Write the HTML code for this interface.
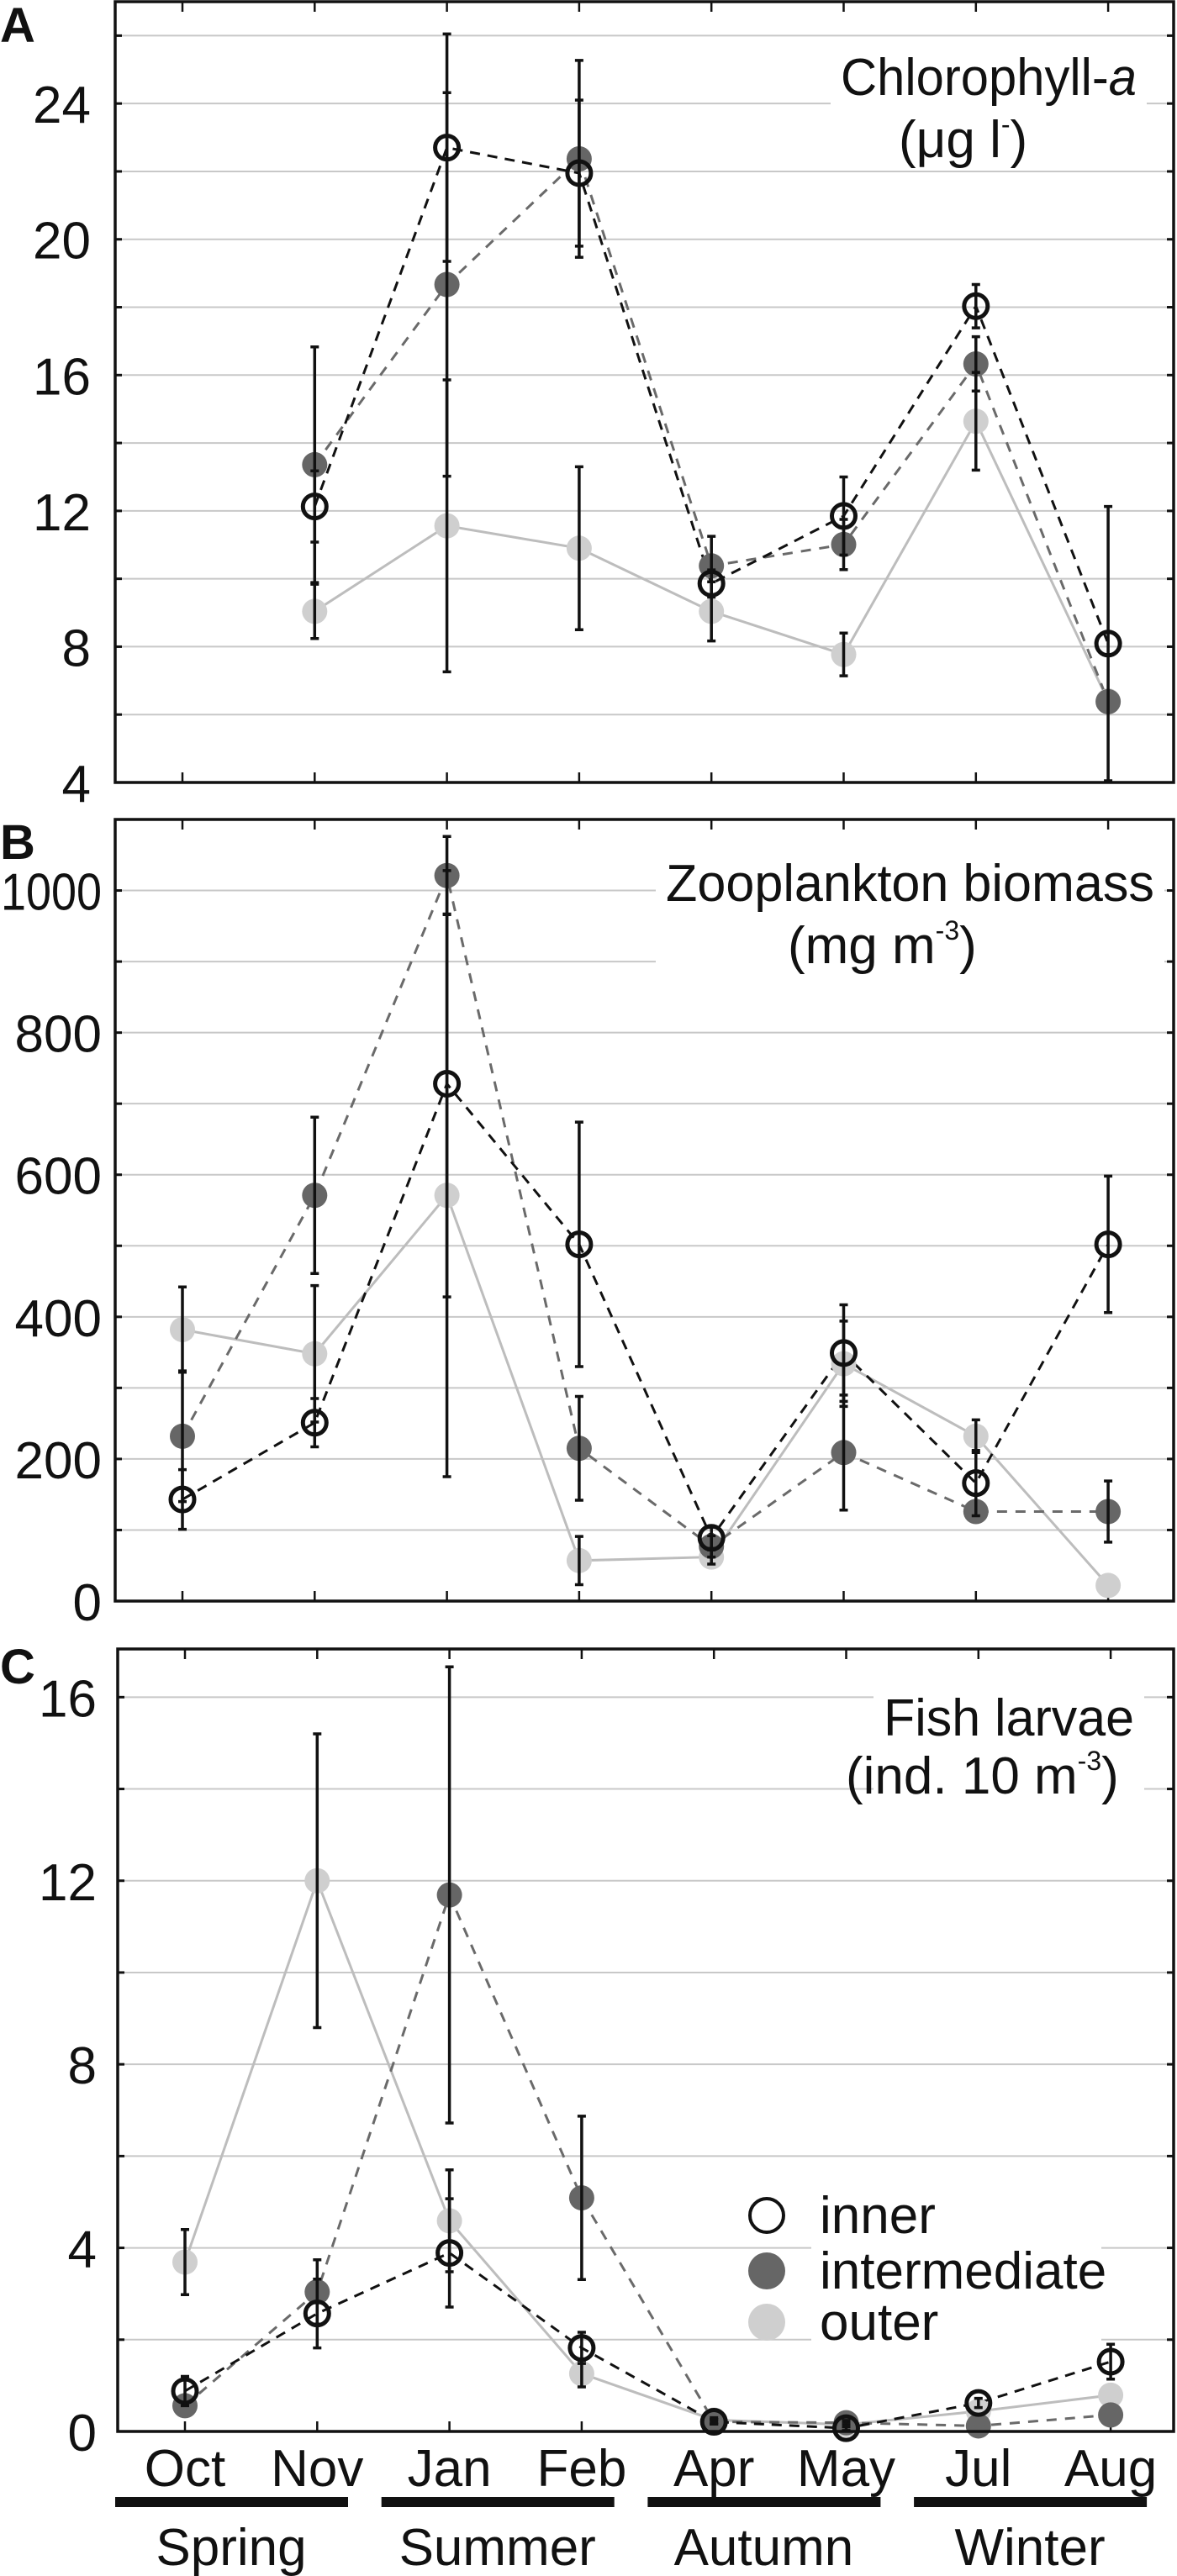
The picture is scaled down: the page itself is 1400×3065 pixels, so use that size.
<!DOCTYPE html>
<html><head><meta charset="utf-8"><style>
html,body{margin:0;padding:0;background:#fff}
svg{display:block}
text{font-family:"Liberation Sans",sans-serif;fill:#111}
</style></head><body>
<svg id="chart" width="1400" height="3065" viewBox="0 0 1400 3065" xmlns="http://www.w3.org/2000/svg"></svg>
<script>
const months = ["Oct","Nov","Jan","Feb","Apr","May","Jul","Aug"];
const seasons = ["Spring","Summer","Autumn","Winter"];
const chlInner = [null,12.13,22.7,21.95,9.86,11.85,18.03,8.09];
const chlInterm = [null,13.36,18.67,22.37,10.38,11.01,16.33,6.38];
const chlOuter = [null,9.04,11.56,10.9,9.04,7.77,14.64,6.4];
const chlInnerErr = [0,1.05,3.35,2.15,0.4,1.15,0.64,4.04];
const chlIntermErr = [0,3.47,5.65,2.9,0.87,0.74,0.8,0];
const chlOuterErr = [0,0.8,4.3,2.4,0.87,0.63,1.44,0];
const zooInner = [143,251,728,502,89,349,166,502];
const zooInterm = [232,571,1021,215,77,209,126,126];
const zooOuter = [382,348,571,57,62,334,232,22];
const zooInnerErr = [42,34,300,172,15,68,46,96];
const zooIntermErr = [92,110,55,73,15,81,0,43];
const zooOuterErr = [60,96,396,34,10,60,23,0];
const fishInner = [0.88,2.57,3.89,1.82,0.21,0.07,0.62,1.52];
const fishInterm = [0.56,3.04,11.69,5.09,0.21,0.19,0.12,0.36];
const fishOuter = [3.69,12.0,4.59,1.26,0.25,0.15,0.44,0.79];
const fishInnerErr = [0.32,0.75,1.18,0.34,0.05,0.05,0.1,0.38];
const fishIntermErr = [0,0.7,4.97,1.78,0.05,0.05,0,0];
const fishOuterErr = [0.71,3.2,1.11,0.29,0.05,0.05,0,0];
const chlTicks = [4,8,12,16,20,24];
const zooTicks = [0,200,400,600,800,1000];
const fishTicks = [0,4,8,12,16];

const NS="http://www.w3.org/2000/svg";
const svg=document.getElementById('chart');
function mk(tag,attrs,parent){const e=document.createElementNS(NS,tag);for(const k in attrs)e.setAttribute(k,attrs[k]);(parent||svg).appendChild(e);return e;}

const panels=[
 {key:'chl',letter:'A',top:2,bottom:931,left:137,right:1396,xoff:0,vmin:4,vmax:27,grid:2,ticks:chlTicks,labelRight:108,
  inner:chlInner,interm:chlInterm,outer:chlOuter,ie:chlInnerErr,me:chlIntermErr,oe:chlOuterErr,letterY:50,
  t1:"Chlorophyll-",t1i:"a",t1x:1000,t1y:113,t1w:352,t2:"(μg l",t2s:"-",t2e:")",t2x:1069,t2y:187,t2w:147},
 {key:'zoo',letter:'B',top:975,bottom:1905,left:137,right:1396,xoff:0,vmin:0,vmax:1100,grid:100,ticks:zooTicks,labelRight:121,
  inner:zooInner,interm:zooInterm,outer:zooOuter,ie:zooInnerErr,me:zooIntermErr,oe:zooOuterErr,letterY:1022,
  t1:"Zooplankton biomass",t1i:"",t1x:792,t1y:1072,t1w:581,t2:"(mg m",t2s:"-3",t2e:")",t2x:937,t2y:1146,t2w:217},
 {key:'fish',letter:'C',top:1962,bottom:2893,left:140,right:1396,xoff:3,vmin:0,vmax:17.05,grid:2,ticks:fishTicks,labelRight:115,
  inner:fishInner,interm:fishInterm,outer:fishOuter,ie:fishInnerErr,me:fishIntermErr,oe:fishOuterErr,letterY:2003,
  t1:"Fish larvae",t1i:"",t1x:1051,t1y:2065,t1w:298,t2:"(ind. 10 m",t2s:"-3",t2e:")",t2x:1006,t2y:2134,t2w:316}
];

panels.forEach(p=>{
 const g=mk('g',{});
 
 
 const xs=i=>217+p.xoff+i*157.3;
 const ys=v=>p.bottom-(v-p.vmin)*(p.bottom-p.top)/(p.vmax-p.vmin);
 for(let v=p.vmin+p.grid; v<p.vmax-1e-6; v+=p.grid){
  const y=ys(v);
  const l=mk('line',{x1:p.left,x2:p.right,y1:y,y2:y,stroke:'#c8c8c8','stroke-width':2},g);
  
  
  mk('line',{x1:p.left,x2:p.left+8,y1:y,y2:y,stroke:'#111','stroke-width':3},g);
  mk('line',{x1:p.right-8,x2:p.right,y1:y,y2:y,stroke:'#111','stroke-width':3},g);
 }
 months.forEach((m,i)=>{
  const x=xs(i);
  mk('line',{x1:x,x2:x,y1:p.bottom,y2:p.bottom-12,stroke:'#111','stroke-width':2.5},g);
  mk('line',{x1:x,x2:x,y1:p.top,y2:p.top+12,stroke:'#111','stroke-width':2.5},g);
 });
 p.ticks.forEach(v=>{
  const t=mk('text',{x:p.labelRight,y:ys(v)+23,'text-anchor':'end','font-size':62},g);
  t.textContent=v;
  if(String(v).length>=4){t.setAttribute('textLength',120);t.setAttribute('lengthAdjust','spacingAndGlyphs');}
  
  
 });
 const L=mk('text',{x:0,y:p.letterY,'font-size':58,'font-weight':'bold'},g);
 L.textContent=p.letter;
 
 
 mk('rect',{x:p.t1x-12,y:p.t1y-54,width:Math.max(p.t1w,p.t2x+p.t2w-p.t1x)+24,height:p.t2y-p.t1y+68,fill:'#fff'},g);
 const T1=mk('text',{x:p.t1x,y:p.t1y,'font-size':62},g);
 T1.textContent=p.t1;
 if(p.t1i){const s=mk('tspan',{'font-style':'italic'},T1);s.textContent=p.t1i;}
 T1.setAttribute('textLength',p.t1w);T1.setAttribute('lengthAdjust','spacingAndGlyphs');
 
 
 const T2=mk('text',{x:p.t2x,y:p.t2y,'font-size':62},g);
 const a=mk('tspan',{},T2);a.textContent=p.t2;
 const b=mk('tspan',{'font-size':32,dy:-28},T2);b.textContent=p.t2s;
 const c=mk('tspan',{dy:28},T2);c.textContent=p.t2e;
 
 
 const series=[
  {name:'outer',d:p.outer,e:p.oe,stroke:'#bdbdbd',dash:'',fill:'#cfcfcf'},
  {name:'intermediate',d:p.interm,e:p.me,stroke:'#6a6a6a',dash:'12 10',fill:'#666'},
  {name:'inner',d:p.inner,e:p.ie,stroke:'#111',dash:'12 9',fill:'none'}
 ];
 series.forEach(s=>{
  let pts=[];s.d.forEach((v,i)=>{if(v!==null)pts.push(xs(i)+','+ys(v));});
  const pl=mk('polyline',{points:pts.join(' '),fill:'none',stroke:s.stroke,'stroke-width':3,'stroke-dasharray':s.dash},g);
  
  
 });
 series.forEach(s=>{
  s.d.forEach((v,i)=>{
   if(v===null)return;
   let c;
   if(s.name==='inner') c=mk('circle',{cx:xs(i),cy:ys(v),r:14,fill:'none',stroke:'#111','stroke-width':5},g);
   else c=mk('circle',{cx:xs(i),cy:ys(v),r:15,fill:s.fill},g);
   
   
  });
 });
 series.forEach(s=>{
  s.d.forEach((v,i)=>{
   if(v===null||!s.e[i])return;
   const x=xs(i),y1=ys(v+s.e[i]),y2=ys(Math.max(p.vmin,v-s.e[i]));
   const eb=mk('path',{d:`M${x},${y1}V${y2}M${x-5},${y1}H${x+5}M${x-5},${y2}H${x+5}`,stroke:'#111','stroke-width':3.5,fill:'none'},g);
   
   
  });
 });
 const f=mk('rect',{x:p.left,y:p.top,width:p.right-p.left,height:p.bottom-p.top,fill:'none',stroke:'#111','stroke-width':3.5},g);
 
 
});

const lg=mk('g',{});


mk('rect',{x:965,y:2603,width:345,height:194,fill:'#fff'},lg);
const leg=[{n:'inner',y:2636},{n:'intermediate',y:2702},{n:'outer',y:2763}];
leg.forEach(e=>{
 let c;
 if(e.n==='inner') c=mk('circle',{cx:912,cy:e.y,r:20,fill:'none',stroke:'#111','stroke-width':4},lg);
 else c=mk('circle',{cx:912,cy:e.y,r:22,fill:e.n==='intermediate'?'#666':'#cfcfcf'},lg);
 
 
 const t=mk('text',{x:975,y:e.y+21,'font-size':62},lg);
 t.textContent=e.n;
 
 
});
months.forEach((m,i)=>{
 const t=mk('text',{x:220+i*157.3,y:2958,'text-anchor':'middle','font-size':62});
 t.textContent=m;
 
 
});
seasons.forEach((s,i)=>{
 const x0=137+i*316.7;
 const r=mk('rect',{x:x0,y:2971,width:277,height:12,fill:'#111'});
 
 
 const t=mk('text',{x:x0+138,y:3052,'text-anchor':'middle','font-size':62});
 t.textContent=s;
 
 
});
</script>
</body></html>
